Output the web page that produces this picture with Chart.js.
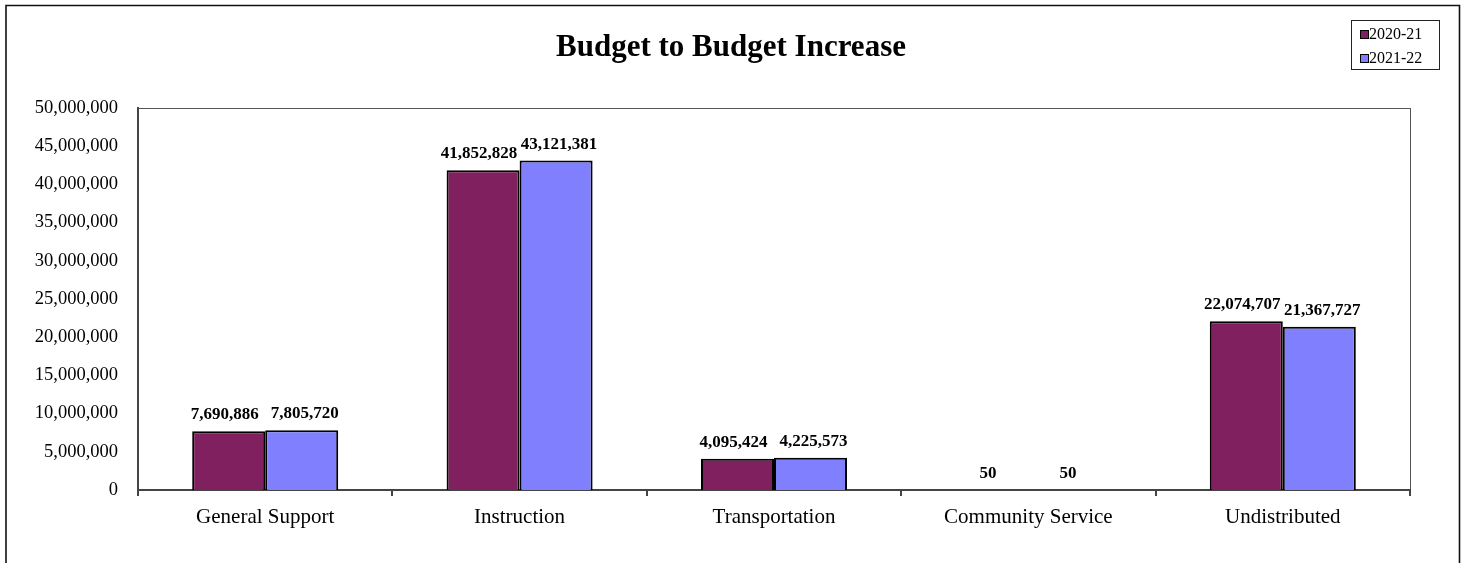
<!DOCTYPE html>
<html>
<head>
<meta charset="utf-8">
<script src="https://cdn.jsdelivr.net/npm/chart.js@4.4.1/dist/chart.umd.min.js"></script>
<style>
  html, body { margin: 0; padding: 0; background: #fff; overflow: hidden; }
</style>
</head>
<body>
<canvas id="budget" width="1468" height="563"></canvas>
<script>
// budget lines, per fund category
const categories = ['General Support', 'Instruction', 'Transportation', 'Community Service', 'Undistributed'];
const seriesNames = ['2020-21', '2021-22'];
const budget2021 = [7690886, 41852828, 4095424, 50, 22074707];
const budget2122 = [7805720, 43121381, 4225573, 50, 21367727];
const yMax = 50000000;
const yStep = 5000000;

const SERIF = '"Liberation Serif", "Times New Roman", serif';
const fmt = v => Math.round(v).toLocaleString('en-US');

// white page, outer frame (open at the bottom), plot box, title
const frame = {
  id: 'frame',
  beforeDraw(chart) {
    const {ctx, chartArea: a} = chart;
    ctx.save();
    ctx.fillStyle = '#fff';
    ctx.fillRect(0, 0, chart.width, chart.height);
    ctx.strokeStyle = '#111';
    ctx.lineWidth = 1.6;
    ctx.beginPath();
    ctx.moveTo(6, chart.height + 2);
    ctx.lineTo(6, 5.5);
    ctx.lineTo(1459.5, 5.5);
    ctx.lineTo(1459.5, chart.height + 2);
    ctx.stroke();
    ctx.strokeStyle = '#555';
    ctx.lineWidth = 1;
    ctx.strokeRect(a.left + 0.5, a.top + 0.5, a.right - a.left, a.bottom - a.top);
    ctx.fillStyle = '#000';
    ctx.font = 'bold 31px ' + SERIF;
    ctx.textAlign = 'center';
    ctx.textBaseline = 'middle';
    ctx.fillText('Budget to Budget Increase', 731, 48);
    ctx.restore();
  }
};

// value labels above every bar; the pair is nudged apart so they don't touch
const valueLabels = {
  id: 'valueLabels',
  afterDatasetsDraw(chart) {
    const {ctx} = chart;
    ctx.save();
    ctx.fillStyle = '#000';
    ctx.font = 'bold 17px ' + SERIF;
    ctx.textAlign = 'center';
    ctx.textBaseline = 'alphabetic';
    chart.data.datasets.forEach((ds, i) => {
      const shift = i === 0 ? -4 : 3;
      chart.getDatasetMeta(i).data.forEach((bar, j) => {
        ctx.fillText(fmt(ds.data[j]), bar.x + shift, bar.y - 12);
      });
    });
    ctx.restore();
  }
};

// boxed legend in the top-right corner
const boxLegend = {
  id: 'boxLegend',
  afterDraw(chart) {
    const {ctx} = chart;
    ctx.save();
    ctx.strokeStyle = '#222';
    ctx.lineWidth = 1;
    ctx.strokeRect(1351.5, 20.5, 88, 49);
    ctx.font = '16px ' + SERIF;
    ctx.textAlign = 'left';
    ctx.textBaseline = 'middle';
    chart.data.datasets.forEach((ds, i) => {
      const y = 34 + i * 24;
      ctx.fillStyle = ds.backgroundColor;
      ctx.fillRect(1361, y - 3, 7, 7);
      ctx.strokeStyle = '#000';
      ctx.strokeRect(1360.5, y - 3.5, 8, 8);
      ctx.fillStyle = '#000';
      ctx.fillText(ds.label, 1369, y + 1);
    });
    ctx.restore();
  }
};

new Chart(document.getElementById('budget'), {
  type: 'bar',
  data: {
    labels: categories,
    datasets: [
      { label: seriesNames[0], data: budget2021, backgroundColor: '#80205F' },
      { label: seriesNames[1], data: budget2122, backgroundColor: '#8080FF' }
    ]
  },
  options: {
    responsive: false,
    animation: false,
    devicePixelRatio: 1,
    layout: { padding: { left: 6, right: 58, top: 108, bottom: 0 } },
    datasets: {
      bar: {
        borderColor: '#000',
        borderWidth: 2,
        categoryPercentage: 0.574,
        barPercentage: 1
      }
    },
    plugins: {
      legend: { display: false },
      title: { display: false },
      tooltip: { enabled: false }
    },
    scales: {
      x: {
        afterFit(s) { s.height = 73; },
        grid: {
          display: true, offset: true, drawOnChartArea: false,
          drawTicks: true, tickLength: 6, color: '#444', lineWidth: 2
        },
        border: { display: true, color: '#444', width: 2 },
        ticks: { color: '#000', padding: 9, font: { family: SERIF, size: 21 } }
      },
      y: {
        min: 0,
        max: yMax,
        afterFit(s) { s.width = 132; },
        grid: { display: false, drawTicks: false },
        border: { display: true, color: '#444', width: 2 },
        ticks: {
          stepSize: yStep,
          color: '#000',
          padding: 20,
          font: { family: SERIF, size: 18.5 },
          callback: v => fmt(v)
        }
      }
    }
  },
  plugins: [frame, valueLabels, boxLegend]
});
</script>
</body>
</html>
